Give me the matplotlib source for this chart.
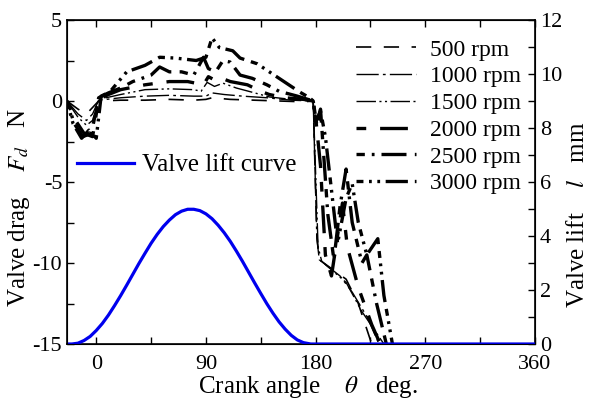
import matplotlib
matplotlib.use('Agg')
import matplotlib.pyplot as plt
from matplotlib.ticker import MultipleLocator

plt.rcParams['font.family'] = ['Liberation Serif', 'DejaVu Serif']
plt.rcParams['mathtext.fontset'] = 'stix'
plt.rcParams['lines.scale_dashes'] = False
plt.rcParams['axes.unicode_minus'] = False

# valve lift curve (mm)
lift_theta = [-24, -20, -15, -10, -5, 0, 5, 10, 15, 20, 25, 30, 35, 40, 45, 50, 55, 60, 65,
              70, 75, 80, 85, 90, 95, 100, 105, 110, 115, 120, 125, 130, 135, 140, 145, 150,
              155, 160, 165, 170, 176, 360]
lift_mm = [0, 0, 0.03, 0.13, 0.28, 0.50, 0.76, 1.07, 1.42, 1.79, 2.18, 2.58, 2.98, 3.36, 3.73,
           4.06, 4.35, 4.59, 4.79, 4.92, 4.99, 4.99, 4.94, 4.82, 4.64, 4.40, 4.12, 3.80, 3.44,
           3.06, 2.66, 2.26, 1.87, 1.49, 1.14, 0.82, 0.55, 0.32, 0.15, 0.05, 0, 0]

# valve drag (N) for each engine speed
theta_500 = [-24, -15, -8, -3, 2, 20, 40, 60, 80, 90, 95, 110, 130, 150, 170, 178,
             181, 183, 205, 215, 226]
drag_500 = [0, -0.5, -0.8, -0.4, 0, 0.05, 0.05, 0.1, 0.05, 0.1, 0.2, 0.1, 0.05, 0, -0.05, 0,
            -8.3, -9.8, -11.0, -12.5, -15]

theta_1000 = [-24, -15, -8, -3, 2, 20, 40, 60, 80, 90, 95, 105, 120, 140, 160, 178,
              181, 183, 200, 210, 222, 232]
drag_1000 = [0, -0.8, -1.2, -0.8, 0.05, 0.2, 0.3, 0.35, 0.3, 0.3, 0.5, 0.4, 0.3, 0.2, 0.05, 0,
             -8.5, -9.8, -10.8, -11.8, -13.3, -15]

theta_1500 = [-24, -15, -8, -3, 2, 20, 40, 60, 80, 86, 91, 97, 104, 115, 130, 142, 160, 178,
              182, 185, 205, 218, 236]
drag_1500 = [0, -1.0, -1.5, -1.2, 0.1, 0.4, 0.7, 0.75, 0.7, 0.6, 1.15, 0.9, 1.1, 0.8, 0.5, 0.25, 0.1, 0.05,
             -9.0, -9.9, -11.2, -13.0, -15]

theta_2000 = [-24, -17, -10, -3, 2, 10, 20, 40, 60, 75, 88, 92, 97, 103, 110, 124, 135, 142,
              155, 170, 178, 180, 184, 188, 193, 202, 206, 215, 226, 233]
drag_2000 = [0, -1.2, -2.0, -2.2, 0.1, 0.4, 0.7, 1.0, 1.2, 1.2, 1.0, 1.5, 1.3, 1.4, 1.2, 1.0, 0.6, 0.4,
             0.2, 0.1, 0, -1.0, -4.0, -9.5, -10.8, -6.3, -9.0, -11.5, -13.8, -15]

theta_2500 = [-24, -18, -11, -4, 2, 10, 20, 30, 45, 52, 60, 70, 80, 88, 92, 98, 104, 110, 118,
              128, 140, 150, 165, 178, 181, 184, 190, 195, 200, 205, 210, 218, 222, 230, 238]
drag_2500 = [0, -1.4, -2.2, -2.0, 0.2, 0.5, 0.8, 1.2, 1.6, 2.1, 1.8, 1.8, 1.6, 2.7, 2.0, 1.8, 2.5, 2.4,
             1.6, 1.4, 1.0, 0.6, 0.3, 0, -1.5, -0.5, -7.0, -9.8, -6.5, -4.2, -7.5, -10.0, -9.5,
             -12.5, -15]

theta_3000 = [-24, -19, -12, -6, 0, 4, 11, 25, 40, 52, 65, 82, 90, 95, 101, 112, 118, 132, 142,
              150, 167, 175, 178, 180, 184, 188, 193, 198, 205, 210, 215, 222, 231, 236, 243]
drag_3000 = [0, -1.4, -2.3, -1.8, -2.3, 0.3, 0.55, 1.8, 2.2, 2.7, 2.65, 2.5, 2.7, 3.9, 3.3, 3.1, 2.65,
             2.3, 1.8, 1.4, 0.55, 0.2, 0, -1.3, -0.6, -2.2, -5.5, -8.8, -6.0, -5.1, -7.5, -9.5,
             -8.5, -12.0, -15]

speeds = ['500 rpm', '1000 rpm', '1500 rpm', '2000 rpm', '2500 rpm', '3000 rpm']

fig = plt.figure(figsize=(5.96, 4.0), dpi=100)
ax = fig.add_axes([0.1124, 0.14, 0.7853, 0.81])

ax.plot(theta_500, drag_500, color='black', lw=1.2, ls=(0, (11, 9)), label=speeds[0])
ax.plot(theta_1000, drag_1000, color='black', lw=1.0, ls=(0, (16, 3, 2, 3)), label=speeds[1])
ax.plot(theta_1500, drag_1500, color='black', lw=1.0, ls=(0, (14, 2.5, 1.5, 2.5, 1.5, 2.5)),
        label=speeds[2])
ax.plot(theta_2000, drag_2000, color='black', lw=2.4, ls=(0, (7, 10, 20, 10)), label=speeds[3])
ax.plot(theta_2500, drag_2500, color='black', lw=2.4, ls=(0, (6, 5, 2, 5, 18, 6)), label=speeds[4])
ax.plot(theta_3000, drag_3000, color='black', lw=2.4, ls=(0, (5, 4, 2, 4, 2, 4, 16, 5)),
        label=speeds[5])

ax.set_xlim(-24, 360)
ax.set_ylim(-15, 5)
ax.xaxis.set_major_locator(MultipleLocator(90))
ax.xaxis.set_minor_locator(MultipleLocator(45))
ax.yaxis.set_major_locator(MultipleLocator(5))
ax.yaxis.set_minor_locator(MultipleLocator(2.5))
ax.tick_params(which='both', direction='in', top=True, length=5, width=1, labelsize=16)
ax.tick_params(axis='x', pad=8)
ax.set_xlabel(r'Crank angle    $\theta$   deg.', fontsize=18)
ax.xaxis.set_label_coords(0.515, -0.092)
ax.set_ylabel(r'Valve drag    $F_d$   N', fontsize=18)
ax.yaxis.set_label_coords(-0.074, 0.42)

leg = ax.legend(loc='upper right', bbox_to_anchor=(0.99, 0.97), frameon=False, fontsize=17,
                handlelength=2.55, handletextpad=0.6, labelspacing=0.22, borderaxespad=0.0)

ax2 = ax.twinx()
ax2.plot(lift_theta, lift_mm, color='#0000ee', lw=2.3, label='Valve lift curve')
ax2.set_ylim(0, 12)
ax2.yaxis.set_major_locator(MultipleLocator(2))
ax2.yaxis.set_minor_locator(MultipleLocator(1))
ax2.tick_params(which='both', direction='in', length=5, width=1, labelsize=16)
ax2.set_ylabel(r'Valve lift    $l$   mm', fontsize=18)
ax2.yaxis.set_label_coords(1.068, 0.40)
ax2.legend(loc='center left', bbox_to_anchor=(0.0, 0.552), frameon=False, fontsize=18,
           handlelength=2.3, handletextpad=0.3, borderaxespad=0.0)

for spine in ax.spines.values():
    spine.set_linewidth(1.2)

fig.savefig('out.png', dpi=100)
